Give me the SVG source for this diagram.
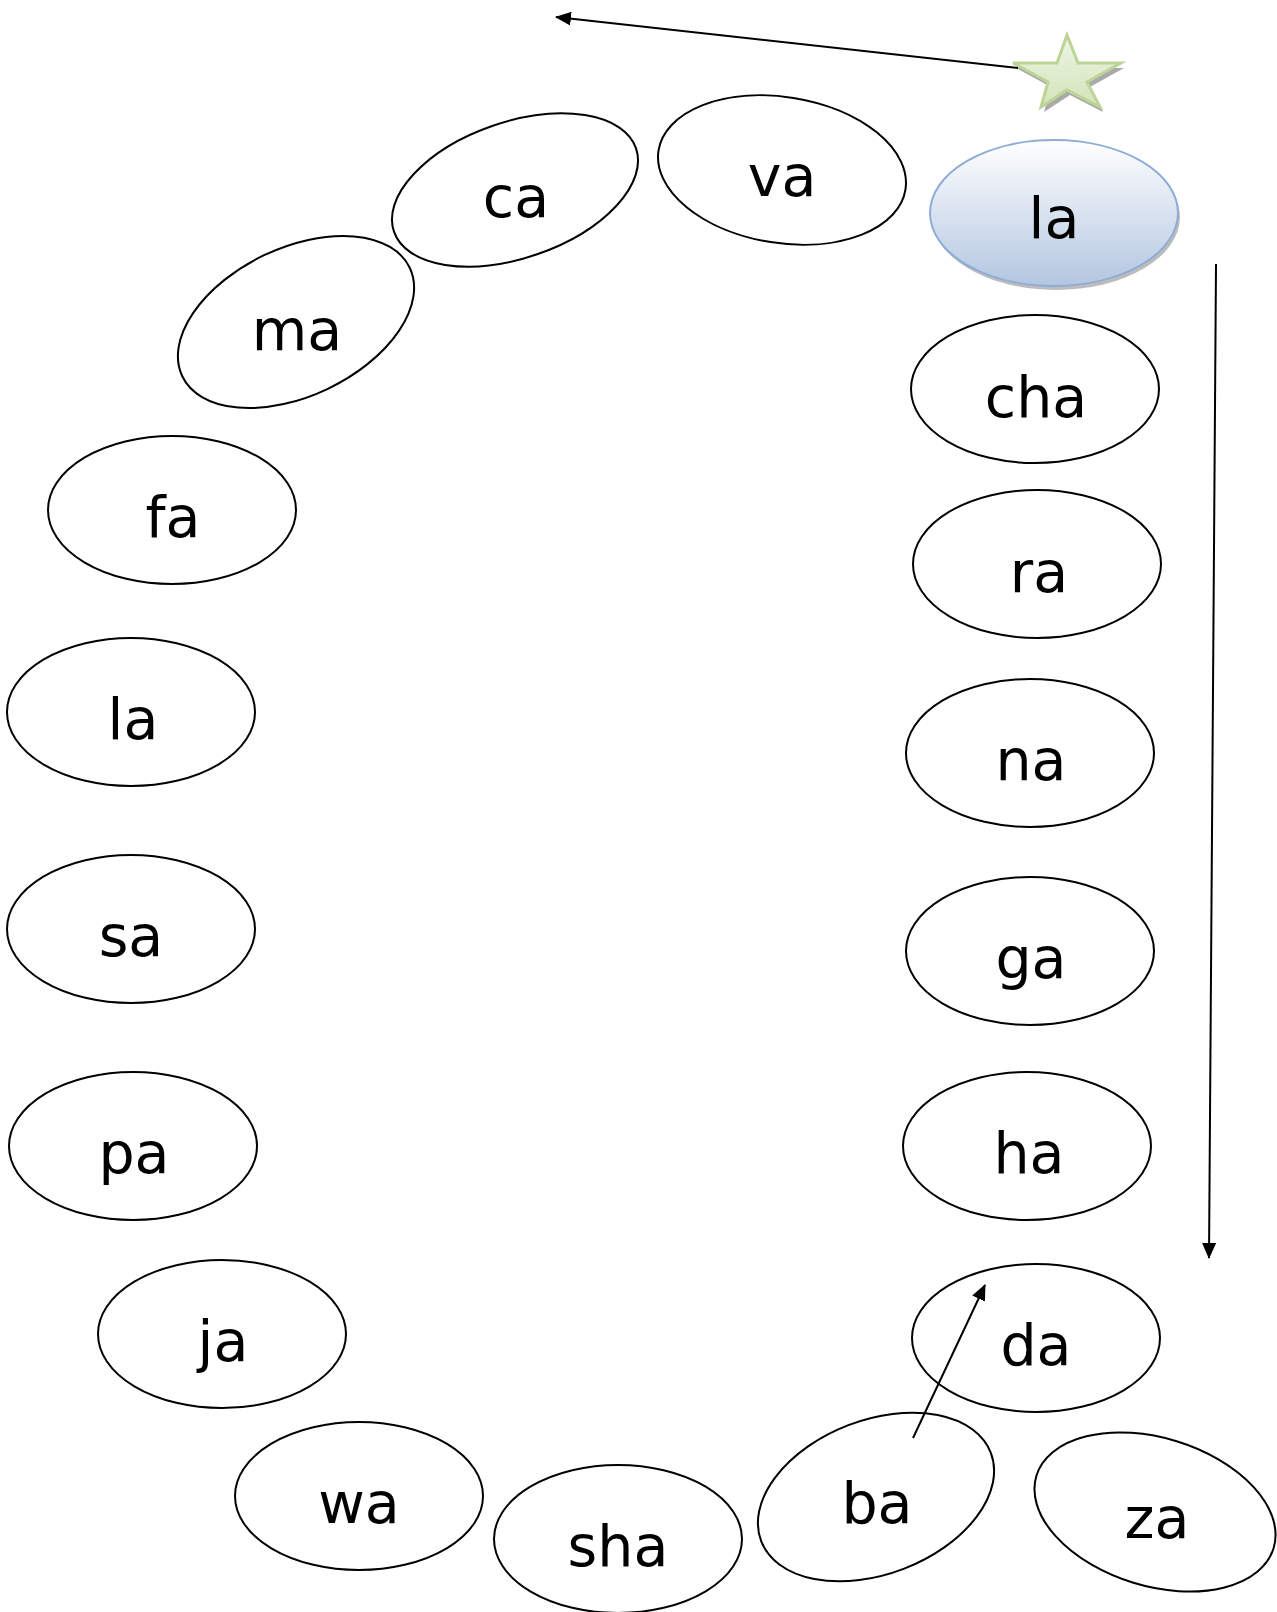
<svg xmlns="http://www.w3.org/2000/svg" width="1277" height="1612" viewBox="0 0 1277 1612">
<style>
.n ellipse{fill:#fff;stroke:#000;stroke-width:2}
.n text{font-family:"DejaVu Sans",sans-serif;font-size:57px;fill:#000;text-anchor:middle}
.c line{stroke:#000;stroke-width:2}
</style>
<defs>
<marker id="ah" viewBox="0 0 16 14" refX="15" refY="7" markerWidth="16" markerHeight="14" markerUnits="userSpaceOnUse" orient="auto">
<path d="M0,0 L16,7 L0,14 Z" fill="#000"/>
</marker>
<linearGradient id="blue" x1="0" y1="0" x2="0" y2="1">
<stop offset="0" stop-color="#ffffff"/>
<stop offset="1" stop-color="#b3c6e0"/>
</linearGradient>
<linearGradient id="green" x1="0" y1="0" x2="0" y2="1">
<stop offset="0" stop-color="#eef5e6"/>
<stop offset="1" stop-color="#d2e4b8"/>
</linearGradient>
</defs>
<rect width="1277" height="1612" fill="#fff"/>

<g id="star">
<polygon points="1070,40 1081,68 1124,68 1090,87 1103,112 1070,95 1044,112 1051,87 1016,68 1060,68" fill="#8c8c8c" opacity="0.75"/>
<polygon points="1067,35 1078,63 1121,63 1087,82 1100,107 1067,90 1041,107 1048,82 1013,63 1057,63" fill="url(#green)" stroke="#bcd496" stroke-width="3" stroke-linejoin="miter"/>
</g>

<g id="node-la-top" class="n">
<ellipse cx="1056" cy="217" rx="124" ry="73" style="fill:#8f8f8f;stroke:none" opacity="0.6"/>
<ellipse cx="1054" cy="213" rx="124" ry="73" style="fill:url(#blue);stroke:#8eacd6"/>
<text x="1054" y="238">la</text>
</g>
<g id="node-cha" class="n"><ellipse cx="1035" cy="389" rx="124" ry="74"/><text x="1036" y="417">cha</text></g>
<g id="node-ra" class="n"><ellipse cx="1037" cy="564" rx="124" ry="74"/><text x="1039" y="592">ra</text></g>
<g id="node-na" class="n"><ellipse cx="1030" cy="753" rx="124" ry="74"/><text x="1031" y="780">na</text></g>
<g id="node-ga" class="n"><ellipse cx="1030" cy="951" rx="124" ry="74"/><text x="1031" y="978">ga</text></g>
<g id="node-ha" class="n"><ellipse cx="1027" cy="1146" rx="124" ry="74"/><text x="1029" y="1173">ha</text></g>
<g id="node-da" class="n"><ellipse cx="1036" cy="1338" rx="124" ry="74"/><text x="1036" y="1365">da</text></g>
<g id="node-za" class="n"><ellipse cx="1155" cy="1512" rx="124" ry="74" transform="rotate(17 1155 1512)"/><text x="1157" y="1538">za</text></g>
<g id="node-ba" class="n"><ellipse cx="876" cy="1497" rx="123" ry="77" transform="rotate(-21 876 1497)"/><text x="877" y="1523">ba</text></g>
<g id="node-sha" class="n"><ellipse cx="618" cy="1539" rx="124" ry="74"/><text x="618" y="1566">sha</text></g>
<g id="node-wa" class="n"><ellipse cx="359" cy="1496" rx="124" ry="74"/><text x="359" y="1523">wa</text></g>
<g id="node-ja" class="n"><ellipse cx="222" cy="1334" rx="124" ry="74"/><text x="223" y="1361">ja</text></g>
<g id="node-pa" class="n"><ellipse cx="133" cy="1146" rx="124" ry="74"/><text x="134" y="1173">pa</text></g>
<g id="node-sa" class="n"><ellipse cx="131" cy="929" rx="124" ry="74"/><text x="131" y="956">sa</text></g>
<g id="node-la-left" class="n"><ellipse cx="131" cy="712" rx="124" ry="74"/><text x="133" y="739">la</text></g>
<g id="node-fa" class="n"><ellipse cx="172" cy="510" rx="124" ry="74"/><text x="173" y="537">fa</text></g>
<g id="node-ma" class="n"><ellipse cx="296" cy="322" rx="126" ry="74" transform="rotate(-25.5 296 322)"/><text x="297" y="350">ma</text></g>
<g id="node-ca" class="n"><ellipse cx="515" cy="190" rx="128" ry="68" transform="rotate(-19 515 190)"/><text x="516" y="217">ca</text></g>
<g id="node-va" class="n"><ellipse cx="782" cy="170" rx="125" ry="73" transform="rotate(9 782 170)"/><text x="782" y="196">va</text></g>

<g id="connectors" class="c">
<line x1="1018" y1="68" x2="556" y2="17" marker-end="url(#ah)"/>
<line x1="1216" y1="264" x2="1209" y2="1258" marker-end="url(#ah)"/>
<line x1="913" y1="1438" x2="985" y2="1285" marker-end="url(#ah)"/>
</g>
</svg>
